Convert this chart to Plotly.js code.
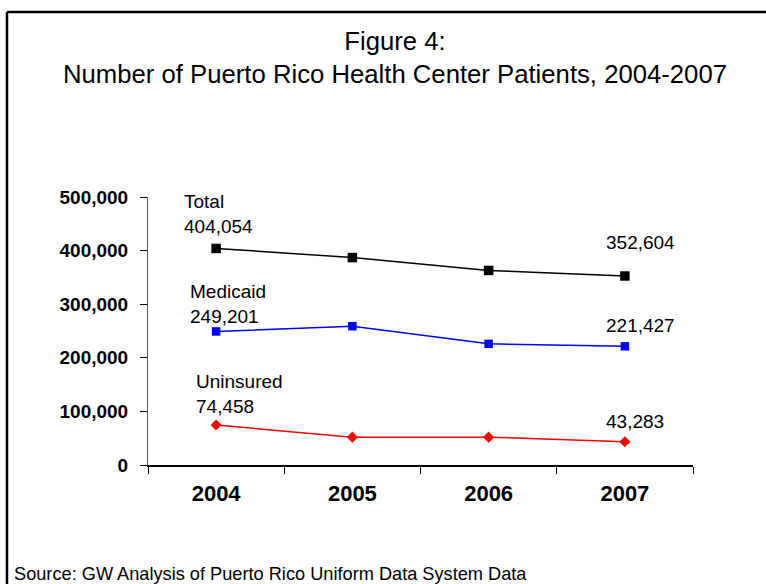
<!DOCTYPE html>
<html>
<head>
<meta charset="utf-8">
<script src="https://cdn.plot.ly/plotly-3.0.1.min.js"></script>
<style>
html,body{margin:0;padding:0;background:#fff;}
#chart{width:766px;height:584px;}
</style>
</head>
<body>
<div id="chart"></div>
<script>
const years = ["2004", "2005", "2006", "2007"];
const totalPatients = [404054, 387000, 363000, 352604];
const medicaidPatients = [249201, 259000, 226000, 221427];
const uninsuredPatients = [74458, 52000, 52000, 43283];
const seriesNames = ["Total", "Medicaid", "Uninsured"];
const yTickValues = [0, 100000, 200000, 300000, 400000, 500000];

const FONT = "Liberation Sans, Arial, sans-serif";
const fmt = v => v.toLocaleString("en-US");

const W = 766, H = 584;
const M = {l: 148, r: 73, t: 197, b: 119};
const pw = W - M.l - M.r, ph = H - M.t - M.b;
const px = x => (x - M.l) / pw;
const py = y => (H - M.b - y) / ph;

const traces = [
  {x: years, y: totalPatients, name: seriesNames[0], type: "scatter", mode: "lines+markers",
   line: {color: "#000000", width: 1.5}, marker: {symbol: "square", size: 9.5, color: "#000000"}},
  {x: years, y: medicaidPatients, name: seriesNames[1], type: "scatter", mode: "lines+markers",
   line: {color: "#0000FF", width: 1.5}, marker: {symbol: "square", size: 8.5, color: "#0000FF"}},
  {x: years, y: uninsuredPatients, name: seriesNames[2], type: "scatter", mode: "lines+markers",
   line: {color: "#FF0000", width: 1.5}, marker: {symbol: "diamond", size: 8.5, color: "#FF0000"}}
];

const allSeries = [totalPatients, medicaidPatients, uninsuredPatients];
const firstShift = [{x: -34, y: 9}, {x: -28, y: 2}, {x: -22, y: 6}];
const lastShift = [{x: -21, y: 21}, {x: -21, y: 8}, {x: -21, y: 8}];
const annotations = [];
allSeries.forEach((s, i) => {
  annotations.push({
    xref: "x", yref: "y", x: 0, y: s[0],
    text: seriesNames[i] + "<br>" + fmt(s[0]), showarrow: false, align: "left",
    xanchor: "left", yanchor: "bottom", xshift: firstShift[i].x, yshift: firstShift[i].y,
    font: {family: FONT, size: 19, color: "#000"}
  });
  const n = s.length - 1;
  annotations.push({
    xref: "x", yref: "y", x: n, y: s[n],
    text: fmt(s[n]), showarrow: false, align: "left",
    xanchor: "left", yanchor: "bottom", xshift: lastShift[i].x, yshift: lastShift[i].y,
    font: {family: FONT, size: 19, color: "#000"}
  });
});
annotations.push({
  xref: "paper", yref: "paper", x: px(12), y: py(574),
  text: "Source: GW Analysis of Puerto Rico Uniform Data System Data", showarrow: false,
  xanchor: "left", yanchor: "middle", font: {family: FONT, size: 18.2, color: "#000"}
});

const layout = {
  width: W, height: H,
  margin: M,
  paper_bgcolor: "#fff", plot_bgcolor: "#fff",
  showlegend: false,
  font: {family: FONT, color: "#000"},
  title: {
    text: "Figure 4:<br>Number of Puerto Rico Health Center Patients, 2004-2007",
    font: {family: FONT, size: 25.7, color: "#000"},
    x: 395 / W, xanchor: "center", xref: "container",
    y: 1 - 50 / H, yanchor: "top", yref: "container"
  },
  xaxis: {
    type: "category", categoryarray: years, categoryorder: "array",
    range: [-0.5, 3.5], autorange: false,
    tickson: "boundaries", ticks: "outside", ticklen: 7, tickcolor: "#000",
    showline: true, linecolor: "#000", linewidth: 1.5, showgrid: false, zeroline: false,
    tickangle: 0,
    tickfont: {family: FONT, size: 22, color: "#000", weight: "bold"},
    ticklabelstandoff: 8, fixedrange: true
  },
  yaxis: {
    range: [0, 500000], autorange: false, tickvals: yTickValues, ticktext: yTickValues.map(fmt),
    ticks: "outside", ticklen: 7, tickcolor: "#000",
    showline: true, linecolor: "#555", linewidth: 1, showgrid: false, zeroline: false,
    tickfont: {family: FONT, size: 19, color: "#000", weight: "bold"},
    ticklabelstandoff: 8, fixedrange: true
  },
  shapes: [
    {type: "line", xref: "paper", yref: "paper", x0: px(7), x1: px(W + 5), y0: py(12), y1: py(12),
     line: {color: "#000", width: 2.5}},
    {type: "line", xref: "paper", yref: "paper", x0: px(7), x1: px(7), y0: py(12), y1: py(H + 5),
     line: {color: "#000", width: 2.5}}
  ],
  annotations: annotations
};

Plotly.newPlot("chart", traces, layout, {staticPlot: true, displayModeBar: false});
</script>
</body>
</html>
